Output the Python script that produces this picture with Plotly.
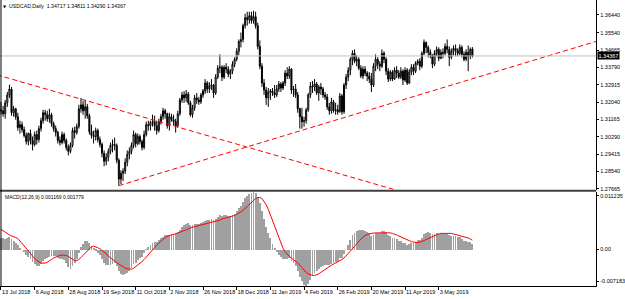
import plotly.graph_objects as go
import pandas as pd

# ---------------- data ----------------
symbol_title = "USDCAD,Daily  1.34717 1.34811 1.34290 1.34367"
macd_title = "MACD(12,26,9) 0.001169 0.001779"
last_price_text = "1.34367"

# trading days shown (no bars on 25 Dec and 1 Jan)
skip_days = ["2018-12-25", "2019-01-01"]
dates = [d for d in pd.bdate_range("2018-07-13", "2019-05-27")
         if d.strftime("%Y-%m-%d") not in skip_days]

tick_dates = ["2018-07-13", "2018-08-06", "2018-08-28", "2018-09-19", "2018-10-11",
              "2018-11-02", "2018-11-26", "2018-12-18", "2019-01-11", "2019-02-04",
              "2019-02-26", "2019-03-20", "2019-04-11", "2019-05-03"]

price_ticks = [1.36440, 1.35540, 1.34665, 1.33790, 1.32915, 1.32040,
               1.31165, 1.30290, 1.29415, 1.28540, 1.27665]
price_min, price_max = 1.27615, 1.37192
macd_min, macd_max = -0.007183, 0.011235

opens = [1.3165, 1.3160, 1.3145, 1.3200, 1.3240, 1.3270, 1.3150, 1.3170, 1.3130, 1.3075,
         1.3090, 1.3065, 1.3035, 1.3005, 1.3045, 1.3010, 1.2990, 1.3040, 1.3015, 1.3070,
         1.3110, 1.3150, 1.3140, 1.3120, 1.3140, 1.3095, 1.3070, 1.3050, 1.3010, 1.3000,
         1.3040, 1.3010, 1.2975, 1.2955, 1.2985, 1.3060, 1.3050, 1.3080, 1.3170, 1.3190,
         1.3160, 1.3180, 1.3135, 1.3055, 1.3035, 1.3030, 1.3060, 1.3015, 1.2990, 1.2945,
         1.2905, 1.2925, 1.2955, 1.2985, 1.2990, 1.2985, 1.2910, 1.2815, 1.2845, 1.2855,
         1.2900, 1.2940, 1.2955, 1.2985, 1.3040, 1.2995, 1.3030, 1.3005, 1.2975, 1.3040,
         1.3090, 1.3085, 1.3100, 1.3105, 1.3085, 1.3060, 1.3105, 1.3130, 1.3160, 1.3145,
         1.3085, 1.3130, 1.3115, 1.3105, 1.3085, 1.3145, 1.3215, 1.3240, 1.3225, 1.3245,
         1.3200, 1.3140, 1.3175, 1.3225, 1.3215, 1.3205, 1.3240, 1.3260, 1.3300, 1.3270,
         1.3285, 1.3290, 1.3250, 1.3330, 1.3375, 1.3380, 1.3330, 1.3380, 1.3370, 1.3345,
         1.3360, 1.3395, 1.3420, 1.3460, 1.3510, 1.3520, 1.3590, 1.3630, 1.3620, 1.3640,
         1.3615, 1.3635, 1.3590, 1.3485, 1.3385, 1.3300, 1.3265, 1.3225, 1.3255, 1.3260,
         1.3250, 1.3240, 1.3270, 1.3295, 1.3275, 1.3300, 1.3350, 1.3335, 1.3370, 1.3265,
         1.3270, 1.3240, 1.3170, 1.3130, 1.3105, 1.3110, 1.3165, 1.3240, 1.3285, 1.3280,
         1.3295, 1.3250, 1.3280, 1.3270, 1.3240, 1.3230, 1.3180, 1.3160, 1.3205, 1.3160,
         1.3165, 1.3155, 1.3235, 1.3155, 1.3290, 1.3330, 1.3365, 1.3420, 1.3450, 1.3410,
         1.3420, 1.3375, 1.3335, 1.3370, 1.3350, 1.3335, 1.3320, 1.3290, 1.3385, 1.3420,
         1.3395, 1.3385, 1.3450, 1.3420, 1.3360, 1.3320, 1.3355, 1.3320, 1.3365, 1.3350,
         1.3330, 1.3360, 1.3315, 1.3365, 1.3300, 1.3355, 1.3380, 1.3360, 1.3400, 1.3410,
         1.3385, 1.3450, 1.3505, 1.3480, 1.3455, 1.3440, 1.3395, 1.3450, 1.3470, 1.3425,
         1.3455, 1.3450, 1.3485, 1.3470, 1.3430, 1.3460, 1.3475, 1.3465, 1.3450, 1.3480,
         1.3445, 1.3420, 1.3455, 1.3435, 1.34717]

highs = [1.3205, 1.3185, 1.3215, 1.3255, 1.3292, 1.3280, 1.3185, 1.3175, 1.3150, 1.3110,
         1.3105, 1.3080, 1.3050, 1.3050, 1.3065, 1.3030, 1.3055, 1.3060, 1.3085, 1.3125,
         1.3165, 1.3165, 1.3160, 1.3170, 1.3150, 1.3105, 1.3085, 1.3060, 1.3030, 1.3055,
         1.3050, 1.3020, 1.2990, 1.3000, 1.3075, 1.3080, 1.3095, 1.3190, 1.3225, 1.3210,
         1.3215, 1.3195, 1.3145, 1.3090, 1.3060, 1.3075, 1.3070, 1.3030, 1.3000, 1.2960,
         1.2945, 1.2970, 1.3000, 1.3015, 1.3025, 1.2995, 1.2920, 1.2860, 1.2870, 1.2920,
         1.2960, 1.2975, 1.3000, 1.3060, 1.3050, 1.3045, 1.3040, 1.3015, 1.3060, 1.3105,
         1.3110, 1.3110, 1.3140, 1.3135, 1.3110, 1.3120, 1.3145, 1.3175, 1.3170, 1.3150,
         1.3150, 1.3145, 1.3140, 1.3120, 1.3160, 1.3225, 1.3255, 1.3260, 1.3265, 1.3255,
         1.3210, 1.3190, 1.3240, 1.3250, 1.3230, 1.3250, 1.3270, 1.3320, 1.3310, 1.3305,
         1.3320, 1.3295, 1.3345, 1.3390, 1.3445, 1.3390, 1.3390, 1.3400, 1.3385, 1.3370,
         1.3410, 1.3430, 1.3475, 1.3520, 1.3555, 1.3600, 1.3650, 1.3660, 1.3660, 1.3660,
         1.3665, 1.3660, 1.3605, 1.3515, 1.3400, 1.3320, 1.3280, 1.3275, 1.3270, 1.3275,
         1.3290, 1.3290, 1.3310, 1.3305, 1.3310, 1.3365, 1.3380, 1.3385, 1.3375, 1.3285,
         1.3295, 1.3255, 1.3175, 1.3175, 1.3130, 1.3175, 1.3250, 1.3305, 1.3310, 1.3320,
         1.3305, 1.3290, 1.3300, 1.3280, 1.3255, 1.3245, 1.3200, 1.3225, 1.3215, 1.3200,
         1.3190, 1.3250, 1.3245, 1.3300, 1.3345, 1.3380, 1.3430, 1.3465, 1.3470, 1.3440,
         1.3430, 1.3390, 1.3385, 1.3385, 1.3360, 1.3355, 1.3350, 1.3400, 1.3445, 1.3430,
         1.3410, 1.3470, 1.3460, 1.3430, 1.3375, 1.3365, 1.3365, 1.3380, 1.3385, 1.3365,
         1.3380, 1.3370, 1.3380, 1.3375, 1.3370, 1.3395, 1.3395, 1.3410, 1.3420, 1.3425,
         1.3460, 1.3520, 1.3510, 1.3490, 1.3470, 1.3445, 1.3465, 1.3485, 1.3480, 1.3470,
         1.3475, 1.3500, 1.3520, 1.3485, 1.3475, 1.3490, 1.3495, 1.3475, 1.3495, 1.3490,
         1.3460, 1.3470, 1.3490, 1.3480, 1.34811]

lows = [1.3140, 1.3130, 1.3120, 1.3180, 1.3225, 1.3135, 1.3130, 1.3115, 1.3060, 1.3045,
        1.3050, 1.3025, 1.2990, 1.2985, 1.2990, 1.2960, 1.2980, 1.2990, 1.3000, 1.3055,
        1.3095, 1.3110, 1.3105, 1.3100, 1.3080, 1.3055, 1.3030, 1.2995, 1.2985, 1.2990,
        1.2995, 1.2960, 1.2935, 1.2945, 1.2975, 1.3020, 1.3040, 1.3070, 1.3150, 1.3140,
        1.3120, 1.3120, 1.3040, 1.3020, 1.2995, 1.3010, 1.3000, 1.2975, 1.2925, 1.2880,
        1.2885, 1.2905, 1.2940, 1.2950, 1.2960, 1.2895, 1.2782, 1.2790, 1.2805, 1.2840,
        1.2880, 1.2915, 1.2940, 1.2970, 1.2975, 1.2985, 1.2990, 1.2960, 1.2965, 1.3030,
        1.3060, 1.3060, 1.3080, 1.3060, 1.3040, 1.3050, 1.3090, 1.3115, 1.3120, 1.3070,
        1.3060, 1.3105, 1.3085, 1.3050, 1.3075, 1.3135, 1.3200, 1.3200, 1.3205, 1.3190,
        1.3130, 1.3125, 1.3160, 1.3195, 1.3190, 1.3195, 1.3225, 1.3245, 1.3250, 1.3250,
        1.3265, 1.3225, 1.3240, 1.3320, 1.3350, 1.3310, 1.3320, 1.3350, 1.3330, 1.3320,
        1.3345, 1.3380, 1.3410, 1.3440, 1.3480, 1.3505, 1.3575, 1.3590, 1.3600, 1.3600,
        1.3600, 1.3575, 1.3470, 1.3370, 1.3280, 1.3240, 1.3190, 1.3180, 1.3215, 1.3235,
        1.3225, 1.3230, 1.3255, 1.3255, 1.3265, 1.3285, 1.3320, 1.3320, 1.3245, 1.3230,
        1.3225, 1.3150, 1.3070, 1.3070, 1.3080, 1.3095, 1.3155, 1.3225, 1.3250, 1.3260,
        1.3240, 1.3210, 1.3240, 1.3225, 1.3215, 1.3165, 1.3140, 1.3145, 1.3150, 1.3140,
        1.3140, 1.3150, 1.3140, 1.3145, 1.3270, 1.3310, 1.3340, 1.3390, 1.3400, 1.3385,
        1.3365, 1.3325, 1.3320, 1.3335, 1.3310, 1.3300, 1.3255, 1.3280, 1.3360, 1.3370,
        1.3360, 1.3375, 1.3400, 1.3340, 1.3305, 1.3310, 1.3310, 1.3315, 1.3325, 1.3320,
        1.3320, 1.3290, 1.3305, 1.3290, 1.3295, 1.3340, 1.3340, 1.3350, 1.3390, 1.3365,
        1.3375, 1.3440, 1.3450, 1.3430, 1.3425, 1.3375, 1.3385, 1.3435, 1.3410, 1.3420,
        1.3425, 1.3440, 1.3450, 1.3385, 1.3420, 1.3440, 1.3435, 1.3435, 1.3440, 1.3430,
        1.3410, 1.3410, 1.3360, 1.3420, 1.34290]

closes = [1.3160, 1.3145, 1.3200, 1.3240, 1.3270, 1.3150, 1.3170, 1.3130, 1.3075, 1.3090,
          1.3065, 1.3035, 1.3005, 1.3045, 1.3010, 1.2990, 1.3040, 1.3015, 1.3070, 1.3110,
          1.3150, 1.3140, 1.3120, 1.3140, 1.3095, 1.3070, 1.3050, 1.3010, 1.3000, 1.3040,
          1.3010, 1.2975, 1.2955, 1.2985, 1.3060, 1.3050, 1.3080, 1.3170, 1.3190, 1.3160,
          1.3180, 1.3135, 1.3055, 1.3035, 1.3030, 1.3060, 1.3015, 1.2990, 1.2945, 1.2905,
          1.2925, 1.2955, 1.2985, 1.2990, 1.2985, 1.2910, 1.2815, 1.2845, 1.2855, 1.2900,
          1.2940, 1.2955, 1.2985, 1.3040, 1.2995, 1.3030, 1.3005, 1.2975, 1.3040, 1.3090,
          1.3085, 1.3100, 1.3105, 1.3085, 1.3060, 1.3105, 1.3130, 1.3160, 1.3145, 1.3085,
          1.3130, 1.3115, 1.3105, 1.3085, 1.3145, 1.3215, 1.3240, 1.3225, 1.3245, 1.3200,
          1.3140, 1.3175, 1.3225, 1.3215, 1.3205, 1.3240, 1.3260, 1.3300, 1.3270, 1.3285,
          1.3290, 1.3250, 1.3330, 1.3375, 1.3380, 1.3330, 1.3380, 1.3370, 1.3345, 1.3360,
          1.3395, 1.3420, 1.3460, 1.3510, 1.3520, 1.3590, 1.3630, 1.3620, 1.3640, 1.3615,
          1.3635, 1.3590, 1.3485, 1.3385, 1.3300, 1.3265, 1.3225, 1.3255, 1.3260, 1.3250,
          1.3240, 1.3270, 1.3295, 1.3275, 1.3300, 1.3350, 1.3335, 1.3370, 1.3265, 1.3270,
          1.3240, 1.3170, 1.3130, 1.3105, 1.3110, 1.3165, 1.3240, 1.3285, 1.3280, 1.3295,
          1.3250, 1.3280, 1.3270, 1.3240, 1.3230, 1.3180, 1.3160, 1.3205, 1.3160, 1.3165,
          1.3155, 1.3235, 1.3155, 1.3290, 1.3330, 1.3365, 1.3420, 1.3450, 1.3410, 1.3420,
          1.3375, 1.3335, 1.3370, 1.3350, 1.3335, 1.3320, 1.3290, 1.3385, 1.3420, 1.3395,
          1.3385, 1.3450, 1.3420, 1.3360, 1.3320, 1.3355, 1.3320, 1.3365, 1.3350, 1.3330,
          1.3360, 1.3315, 1.3365, 1.3300, 1.3355, 1.3380, 1.3360, 1.3400, 1.3410, 1.3385,
          1.3450, 1.3505, 1.3480, 1.3455, 1.3440, 1.3395, 1.3450, 1.3470, 1.3425, 1.3455,
          1.3450, 1.3485, 1.3470, 1.3430, 1.3460, 1.3475, 1.3465, 1.3450, 1.3480, 1.3445,
          1.3420, 1.3455, 1.3435, 1.3470, 1.34367]

# MACD main line (histogram) and signal, in thousandths
macd_hist_milli = [2.3, 2.2, 2.1, 2.2, 2.4, 2.0, 1.7, 1.3, 0.8, 0.4,
                   0.0, -0.5, -1.1, -1.4, -1.9, -2.5, -2.9, -3.3, -3.3, -2.9,
                   -2.3, -1.9, -1.7, -1.4, -1.2, -1.2, -1.3, -1.6, -1.9, -1.8,
                   -2.0, -2.6, -3.4, -3.7, -3.2, -2.6, -1.8, -0.6, 0.5, 1.1,
                   1.6, 1.7, 1.2, 0.7, 0.2, -0.1, -0.6, -1.1, -1.8, -2.6,
                   -3.0, -3.1, -3.0, -2.8, -2.7, -3.2, -4.2, -4.7, -4.9, -4.8,
                   -4.5, -4.1, -3.6, -2.9, -2.6, -2.1, -1.7, -1.4, -0.6, 0.1,
                   0.5, 0.9, 1.2, 1.4, 1.5, 1.8, 2.2, 2.5, 2.8, 2.8,
                   2.9, 3.0, 3.1, 3.1, 3.4, 3.9, 4.4, 4.7, 5.0, 5.1,
                   4.8, 4.7, 4.9, 5.0, 5.0, 5.1, 5.3, 5.6, 5.7, 5.8,
                   5.9, 5.7, 6.0, 6.4, 6.7, 6.6, 6.7, 6.7, 6.6, 6.5,
                   6.7, 7.0, 7.5, 8.1, 8.6, 9.3, 10.0, 10.4, 10.8, 11.0,
                   11.235, 11.0, 10.2, 9.0, 7.5, 6.0, 4.4, 3.2, 2.2, 1.0,
                   0.2, -0.5, -1.0, -1.5, -1.8, -1.8, -1.8, -1.7, -2.2, -2.6,
                   -3.2, -4.2, -5.3, -6.2, -6.9, -7.183, -6.8, -6.0, -5.2, -4.6,
                   -4.2, -3.8, -3.5, -3.3, -3.1, -3.1, -3.1, -2.8, -2.6, -2.4,
                   -2.2, -1.7, -1.7, -0.8, 0.0, 0.9, 1.9, 2.8, 3.3, 3.7,
                   3.9, 3.8, 3.8, 3.7, 3.5, 3.2, 2.7, 2.9, 3.2, 3.3,
                   3.2, 3.6, 3.7, 3.4, 2.9, 2.7, 2.3, 2.2, 2.0, 1.7,
                   1.6, 1.2, 1.2, 0.9, 1.0, 1.2, 1.2, 1.5, 1.8, 1.8,
                   2.3, 3.0, 3.3, 3.4, 3.3, 3.0, 3.1, 3.3, 3.1, 3.1,
                   3.0, 3.1, 3.1, 2.8, 2.7, 2.7, 2.6, 2.4, 2.4, 2.1,
                   1.7, 1.6, 1.4, 1.4, 1.169]

macd_signal_milli = [3.9, 3.6, 3.3, 3.0, 2.8, 2.6, 2.5, 2.3, 2.1, 1.6,
                     1.1, 0.5, 0.0, -0.5, -0.9, -1.4, -1.8, -2.2, -2.5, -2.7,
                     -2.7, -2.7, -2.5, -2.3, -2.0, -1.7, -1.5, -1.3, -1.2, -1.1,
                     -1.1, -1.2, -1.4, -1.7, -2.0, -2.2, -2.2, -2.0, -1.6, -1.2,
                     -0.8, -0.3, 0.2, 0.5, 0.6, 0.5, 0.3, 0.1, -0.2, -0.5,
                     -0.9, -1.3, -1.7, -2.0, -2.3, -2.6, -2.9, -3.2, -3.5, -3.7,
                     -3.8, -3.9, -3.9, -3.7, -3.4, -3.1, -2.8, -2.4, -2.0, -1.5,
                     -1.1, -0.7, -0.2, 0.3, 0.8, 1.2, 1.6, 2.0, 2.3, 2.5,
                     2.7, 2.8, 2.9, 3.0, 3.1, 3.3, 3.5, 3.6, 3.8, 4.0,
                     4.2, 4.3, 4.4, 4.5, 4.6, 4.7, 4.8, 4.9, 5.0, 5.1,
                     5.2, 5.3, 5.4, 5.5, 5.7, 5.9, 6.0, 6.2, 6.3, 6.4,
                     6.5, 6.6, 6.8, 7.0, 7.3, 7.6, 8.0, 8.4, 8.8, 9.2,
                     9.6, 9.9, 10.1, 10.1, 9.9, 9.4, 8.7, 7.8, 6.7, 5.5,
                     4.3, 3.1, 2.0, 1.0, 0.2, -0.5, -1.0, -1.4, -1.7, -2.0,
                     -2.3, -2.7, -3.1, -3.6, -4.1, -4.5, -4.8, -5.0, -5.1, -5.1,
                     -5.0, -4.8, -4.5, -4.2, -3.9, -3.6, -3.3, -3.1, -2.9, -2.7,
                     -2.5, -2.3, -2.0, -1.7, -1.3, -0.9, -0.4, 0.1, 0.6, 1.1,
                     1.6, 2.0, 2.4, 2.7, 2.9, 3.0, 3.1, 3.2, 3.2, 3.2,
                     3.2, 3.3, 3.3, 3.3, 3.3, 3.2, 3.1, 3.0, 2.8, 2.6,
                     2.4, 2.2, 2.0, 1.8, 1.6, 1.5, 1.4, 1.3, 1.3, 1.4,
                     1.5, 1.7, 1.9, 2.1, 2.3, 2.5, 2.7, 2.9, 3.0, 3.1,
                     3.1, 3.2, 3.2, 3.1, 3.1, 3.0, 2.9, 2.8, 2.7, 2.6,
                     2.5, 2.3, 2.2, 2.0, 1.779]

# trend lines: (bar number, price) anchors
trend_down_bar = [-2, 190]
trend_down_price = [1.33416, 1.27527]
trend_up_bar = [56, 283]
trend_up_price = [1.27820, 1.35110]

# ---------------- figure ----------------
W, H = 625, 299
FONT = "Liberation Sans"
bars = list(range(len(closes)))
date_keys = [d.strftime("%Y-%m-%d") for d in dates]
tick_pos = [date_keys.index(t) for t in tick_dates]
tick_text = [f"{pd.Timestamp(t).day} {pd.Timestamp(t).strftime('%b %Y')}" for t in tick_dates]

macd_hist = [v / 1000 for v in macd_hist_milli]
macd_signal = [v / 1000 for v in macd_signal_milli]

def py(px):  # paper y from pixel row
    return 1 - px / H

def pxx(px):
    return px / W

x_right = pxx(600)
price_dom = [py(191), 1.0]
macd_dom = [py(288), py(193)]
x_range = [-0.472, 282.8]

fig = go.Figure()

fig.add_trace(go.Candlestick(
    x=bars, open=opens, high=highs, low=lows, close=closes,
    xaxis="x2", yaxis="y2", whiskerwidth=0,
    increasing=dict(line=dict(color="#000000", width=1), fillcolor="#ffffff"),
    decreasing=dict(line=dict(color="#000000", width=1), fillcolor="#000000"),
    hoverinfo="skip", showlegend=False))

for bx, bp in ((trend_down_bar, trend_down_price), (trend_up_bar, trend_up_price)):
    fig.add_trace(go.Scatter(x=bx, y=bp, mode="lines", xaxis="x2", yaxis="y2",
                             line=dict(color="#ff0000", width=1, dash="5px,3px"),
                             hoverinfo="skip", showlegend=False))

fig.add_trace(go.Bar(x=bars, y=macd_hist, xaxis="x", yaxis="y", width=0.4,
                     marker=dict(color="#a0a0a0", line=dict(width=0)),
                     hoverinfo="skip", showlegend=False))
fig.add_trace(go.Scatter(x=bars, y=macd_signal, mode="lines", xaxis="x", yaxis="y",
                         line=dict(color="#ff0000", width=1),
                         hoverinfo="skip", showlegend=False))

macd_px = (macd_max - macd_min) / (288 - 193)
macd_tickvals = [macd_max - 4 * macd_px, 0.0, macd_min + 5 * macd_px]
macd_ticktext = [f"{macd_max:.6f}", "0.00", f"{macd_min:.6f}"]

axis_font = dict(family=FONT, size=5.5, color="#000000")

fig.update_layout(
    width=W, height=H, margin=dict(l=0, r=0, t=0, b=0),
    paper_bgcolor="#ffffff", plot_bgcolor="#ffffff",
    showlegend=False, hovermode=False, bargap=0,
    font=dict(family=FONT, size=5.5, color="#000000"),
    xaxis=dict(domain=[0, x_right], anchor="y", range=x_range,
               tickvals=tick_pos, ticktext=tick_text, ticks="outside", ticklen=3,
               tickcolor="#000000", tickfont=axis_font, tickangle=0,
               ticklabelposition="outside right",
               showline=True, linecolor="#000000", linewidth=1,
               showgrid=False, zeroline=False, rangeslider=dict(visible=False)),
    yaxis=dict(domain=macd_dom, anchor="x", side="right", range=[macd_min, macd_max],
               tickvals=macd_tickvals, ticktext=macd_ticktext, ticks="outside",
               ticklen=2, tickcolor="#000000", tickfont=axis_font,
               showline=True, linecolor="#000000", linewidth=1,
               showgrid=False, zeroline=False),
    xaxis2=dict(domain=[0, x_right], anchor="y2", matches="x", range=x_range,
                showticklabels=False, ticks="", showgrid=False, zeroline=False,
                showline=False, rangeslider=dict(visible=False)),
    yaxis2=dict(domain=price_dom, anchor="x2", side="right",
                range=[price_min, price_max], tickvals=price_ticks,
                ticktext=[f"{v:.5f}" for v in price_ticks], ticks="outside",
                ticklen=2, tickcolor="#000000", tickfont=axis_font,
                showline=True, linecolor="#000000", linewidth=1,
                showgrid=False, zeroline=False),
    shapes=[
        dict(type="line", xref="paper", yref="y2", x0=0, x1=x_right,
             y0=closes[-1], y1=closes[-1], line=dict(color="#c0c0c0", width=1)),
        dict(type="line", xref="paper", yref="paper", x0=0, x1=x_right,
             y0=py(192), y1=py(192), line=dict(color="#404040", width=2)),
        dict(type="line", xref="paper", yref="paper", x0=pxx(1), x1=pxx(1),
             y0=py(288), y1=1, line=dict(color="#000000", width=1)),
    ],
    annotations=[
        dict(xref="paper", yref="paper", x=pxx(1.5), y=py(6.5), text="▼",
             showarrow=False, xanchor="left", yanchor="middle",
             font=dict(family="DejaVu Sans", size=4, color="#000000")),
        dict(xref="paper", yref="paper", x=pxx(7), y=py(6.5), text=symbol_title,
             showarrow=False, xanchor="left", yanchor="middle",
             font=dict(family=FONT, size=5.2, color="#000000")),
        dict(xref="paper", yref="paper", x=pxx(3), y=py(198.5), text=macd_title,
             showarrow=False, xanchor="left", yanchor="middle",
             font=dict(family=FONT, size=5.0, color="#000000")),
        dict(xref="paper", yref="y2", x=pxx(601), y=closes[-1], text=last_price_text,
             showarrow=False, xanchor="left", yanchor="middle", bgcolor="#000000",
             borderpad=0.5, font=dict(family=FONT, size=5.5, color="#ffffff")),
    ],
)

fig.write_html("out.html", config={"displayModeBar": False})
